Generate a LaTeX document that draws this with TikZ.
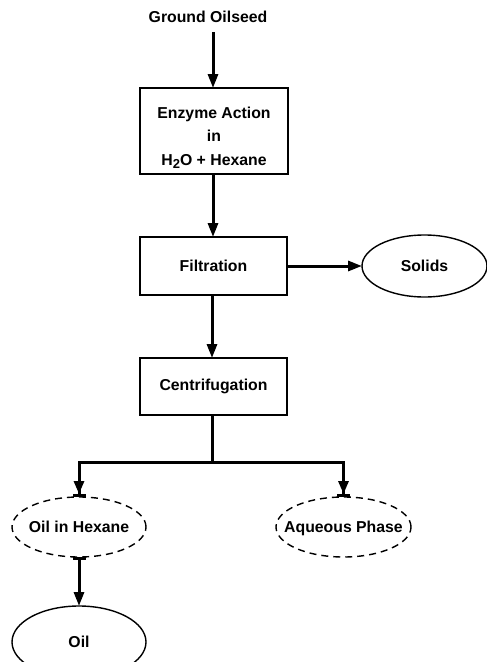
\documentclass[tikz,border=0pt]{standalone}
\usepackage{fontspec}
\setmainfont{Liberation Sans}
\usetikzlibrary{shapes.geometric,arrows.meta,positioning}
\newcommand{\ctxt}[1]{\raisebox{-0.36em}{\makebox[0pt]{#1}}}
\begin{document}
\begin{tikzpicture}[x=1pt,y=-1pt,
  every node/.style={font=\fontsize{15.8}{23.5}\selectfont\bfseries},
  procbox/.style={draw,line width=1.4pt,inner sep=0pt,outer sep=0pt,align=center},
  ell/.style={draw,ellipse,line width=1.4pt,inner sep=0pt,outer sep=0pt,text height=0pt,text depth=0pt},
  dashell/.style={ell,dash pattern=on 7pt off 5pt},
  flow/.style={line width=3pt,-{Triangle[length=14pt,width=10pt]}},
  flowbar/.style={line width=3pt,-{Triangle[length=13pt,width=10pt]Bar[width=13pt]}},
  flowbarstart/.style={line width=3pt,{Bar[width=13pt]}-{Triangle[length=14pt,width=10pt]}}]
\useasboundingbox (0,0) rectangle (487,662);
\node (src) at (208,17) {Ground Oilseed};
\node[procbox,minimum width=148pt,minimum height=86pt] (enz) at (214,131)
  {\raisebox{-6pt}[\height][\depth]{\begin{tabular}{@{}c@{}}Enzyme Action\\[0pt]in\\[0pt]H\raisebox{-0.35ex}{\fontsize{13}{13}\selectfont 2}O + Hexane\end{tabular}}};
\node[procbox,minimum width=147pt,minimum height=58pt] (filt) at (213.5,266) {Filtration};
\node[procbox,minimum width=147pt,minimum height=57pt] (cent) at (213.5,386.5) {Centrifugation};
\node[ell,minimum width=125pt,minimum height=62pt] (sol) at (424.5,266) {\ctxt{Solids}};
\node[dashell,minimum width=134pt,minimum height=60pt] (oih) at (79,527) {\ctxt{Oil in Hexane}};
\node[dashell,minimum width=135pt,minimum height=60pt] (aq) at (343.5,527) {\ctxt{Aqueous Phase}};
\node[ell,minimum width=134pt,minimum height=72pt] (oil) at (79,642) {\ctxt{Oil}};
\coordinate (srcend) at (213,32);
\coordinate (split) at (212,462);
\draw[flow] (srcend) -- (enz.north -| srcend);
\draw[flow] (enz.south -| srcend) -- (filt.north -| srcend);
\draw[flow] (filt.east) -- (sol.west);
\draw[flow] (filt.south -| 212,0) -- (cent.north -| 212,0);
\draw[line width=3pt] (cent.south -| split) -- (split);
\draw[flowbar] (split) -| (oih.north);
\draw[flowbar] (split) -| (aq.north);
\draw[flowbarstart] (oih.south) -- (oil.north);
\end{tikzpicture}
\end{document}
